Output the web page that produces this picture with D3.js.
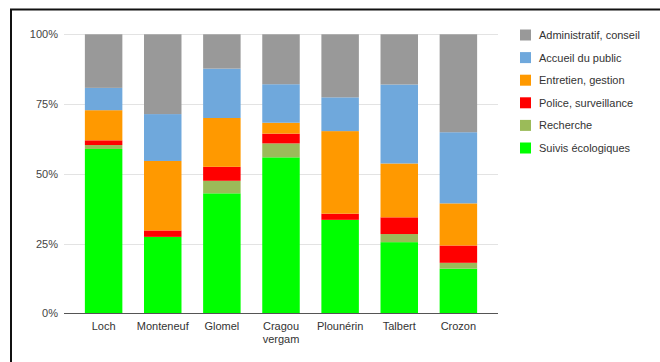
<!DOCTYPE html>
<html><head><meta charset="utf-8">
<script src="https://cdn.jsdelivr.net/npm/d3@7"></script>
<style>
html,body{margin:0;padding:0;background:#fff;}
svg{display:block;font-family:"Liberation Sans",Arial,sans-serif;}
</style></head>
<body><svg id="c" width="660" height="362"></svg>
<script>
const categories = ["Loch","Monteneuf","Glomel","Cragou vergam","Plounérin","Talbert","Crozon"];
const seriesNames = ["Suivis écologiques","Recherche","Police, surveillance","Entretien, gestion","Accueil du public","Administratif, conseil"];
const suivis     = [58.9, 27.4, 43.0, 55.9, 33.5, 25.5, 16.0];
const recherche  = [ 1.4,  0.0,  4.5,  5.0,  0.0,  2.9,  2.1];
const police     = [ 1.7,  2.3,  5.0,  3.5,  2.2,  6.0,  6.2];
const entretien  = [10.8, 24.9, 17.5,  3.9, 29.6, 19.3, 15.1];
const accueil    = [ 8.0, 16.8, 17.7, 13.8, 12.1, 28.3, 25.5];
const admin      = [19.2, 28.6, 12.3, 17.9, 22.6, 18.0, 35.1];
const seriesValues = [suivis, recherche, police, entretien, accueil, admin];
const colors = ["#00ff00","#9bbb59","#ff0000","#ff9900","#6fa8dc","#999999"];
const yTicks = [0, 0.25, 0.5, 0.75, 1];

const svg = d3.select("#c");
// frame
svg.append("path").attr("d","M11,362V9.5H660").attr("fill","none").attr("stroke","#111").attr("stroke-width",2);

const x = d3.scaleBand().domain(categories).range([64,498]).paddingInner(0.366).paddingOuter(0.353);
const y = d3.scaleLinear().domain([0,1]).range([313.3,34.3]);

// gridlines
svg.append("g").selectAll("line").data(yTicks.filter(d=>d>0)).join("line")
  .attr("x1",64).attr("x2",498).attr("y1",d=>Math.round(y(d))+0.5).attr("y2",d=>Math.round(y(d))+0.5)
  .attr("stroke","#e3e3e3").attr("stroke-width",1);

// y labels
svg.append("g").selectAll("text").data(yTicks).join("text")
  .attr("x",58).attr("y",d=>y(d)+4).attr("text-anchor","end")
  .attr("font-size",11).attr("fill","#444").text(d3.format(".0%"));

// stacked data
const rows = categories.map((c,i)=>{const o={cat:c}; seriesNames.forEach((s,j)=>o[s]=seriesValues[j][i]); return o;});
const stack = d3.stack().keys(seriesNames).offset(d3.stackOffsetExpand)(rows);

svg.append("g").selectAll("g").data(stack).join("g").attr("fill",(d,i)=>colors[i])
  .selectAll("rect").data(d=>d).join("rect")
  .attr("x",d=>x(d.data.cat)).attr("width",x.bandwidth())
  .attr("y",d=>y(d[1])).attr("height",d=>Math.max(0,y(d[0])-y(d[1])));

// baseline axis
svg.append("line").attr("x1",64).attr("x2",498).attr("y1",313.5).attr("y2",313.5).attr("stroke","#555").attr("stroke-width",1);

// x labels
const xl = svg.append("g").selectAll("text").data(categories).join("text")
  .attr("text-anchor","middle").attr("font-size",11).attr("fill","#333")
  .attr("transform",d=>`translate(${x(d)+x.bandwidth()/2},329.5)`);
xl.selectAll("tspan").data(d=>d.split(" ")).join("tspan")
  .attr("x",0).attr("dy",(d,i)=>i?13.4:0).text(d=>d);

// legend
const legendOrder = seriesNames.map((s,i)=>({name:s,color:colors[i]})).reverse();
const lg = svg.append("g").selectAll("g").data(legendOrder).join("g")
  .attr("transform",(d,i)=>`translate(520,${35+i*22.6})`);
lg.append("rect").attr("x",0).attr("y",-5.5).attr("width",11).attr("height",11).attr("fill",d=>d.color);
lg.append("text").attr("x",19).attr("y",4).attr("font-size",11).attr("fill","#333").text(d=>d.name);
</script></body></html>
